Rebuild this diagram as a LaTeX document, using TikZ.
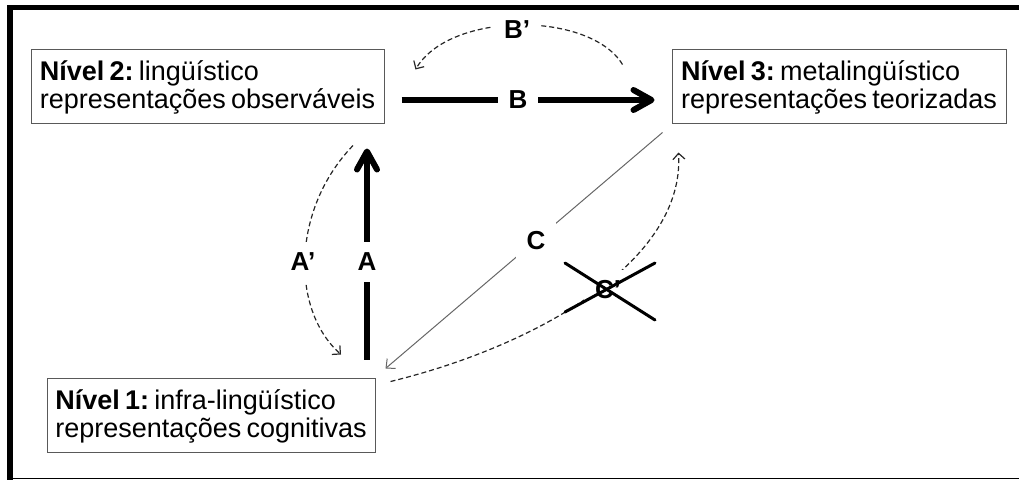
\documentclass[tikz,border=0pt]{standalone}
\usepackage{fontspec}
\setmainfont{Liberation Sans}[WordSpace=0.7]
\usetikzlibrary{arrows.meta,calc}
\newcommand{\topstrut}{\rule{0pt}{31pt}}
\newcommand{\botstrut}{\rule[-15pt]{0pt}{15pt}}
\begin{document}
\frenchspacing
\begin{tikzpicture}[x=1pt,y=-1pt,
  box/.style={draw=black!65, line width=1pt, align=left, inner sep=0pt,
    font=\fontsize{27}{28}\selectfont},
  lab/.style={fill=white, text=black, inner sep=11pt, font=\fontsize{26}{28}\selectfont\bfseries},
  bigarrow/.style={line width=6pt, -{Straight Barb[length=18pt,width=20pt,round]}},
  dasharrow/.style={line width=1.2pt, black!85, dash pattern=on 5pt off 3pt,
    -{Straight Barb[length=6pt,width=12pt]}},
  thinarrow/.style={line width=1pt, black!60, -{Straight Barb[length=7pt,width=13pt]}},
  crossline/.style={line width=3pt, line cap=round}]
\useasboundingbox (0,0) rectangle (1019,480);
% frame
\fill (7,5) rectangle (1019,10);
\fill (7,5) rectangle (12.5,480);
\draw[line width=1.5pt] (7,478.5) -- (1019,478.5);
% nodes
\node[box, minimum width=353pt] (n2) at (207.5,86)
  {\topstrut\textbf{Nível 2:} lingüístico\\representações observáveis\botstrut};
\node[box, minimum width=334pt] (n3) at (839,86)
  {\topstrut\textbf{Nível 3:} metalingüístico\\representações teorizadas\botstrut};
\node[box, minimum width=328pt] (n1) at (211,415)
  {\topstrut\textbf{Nível 1:} infra-lingüístico\\representações cognitivas\botstrut};
% B
\draw[bigarrow] ($(n2.east)+(17,14)$) -- node[lab, pos=0.46] (lB) {B} ($(n3.west)+(-17,14)$);
% A
\draw[bigarrow] ($(n1.north)+(156,-18)$) -- node[lab, pos=0.462] (lA) {A} ($(n2.south)+(159.5,25)$);
% A'
\draw[dasharrow] ($(n2.south)+(145.5,22)$) .. controls (291,210) and (291,310) .. ($(n1.north)+(130,-23)$);
\node[lab] (lAp) at (303,262) {A’};
% B'
\draw[dasharrow] ($(n3.north west)+(-49,16)$) .. controls (590,11) and (450,11) .. ($(n2.north east)+(31,21)$);
\node[lab] (lBp) at (517,30) {B’};
% C
\draw[thinarrow] ($(n3.south west)+(-9,9)$) -- node[lab, pos=0.457] (lC) {C} ($(n1.north east)+(10,-9)$);
% C'
\draw[dasharrow] ($(n1.north east)+(15,4)$) .. controls (540,345) and (685,260) .. ($(n3.south west)+(7,29)$);
\node[lab] (lCp) at (608,290) {C’};
% cross
\coordinate (xa) at (565,263);
\coordinate (xb) at (655,320);
\coordinate (xc) at (565,312);
\coordinate (xd) at (655,263);
\draw[crossline] (xa) -- (xb);
\draw[crossline] (xc) -- (xd);
\end{tikzpicture}
\end{document}
